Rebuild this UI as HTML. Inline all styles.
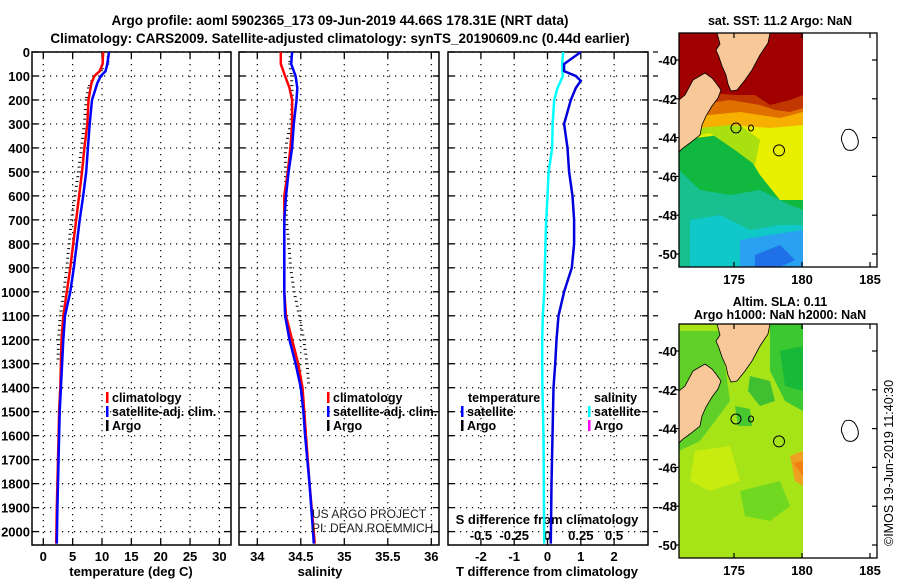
<!DOCTYPE html>
<html><head><meta charset="utf-8">
<style>
html,body{margin:0;padding:0;background:#fff;}
svg{display:block;font-family:"Liberation Sans",sans-serif;font-weight:bold;}
</style></head>
<body>
<svg id="c" width="900" height="580" viewBox="0 0 900 580" xmlns="http://www.w3.org/2000/svg">
<text x="340" y="25" text-anchor="middle" font-size="13.5">Argo profile: aoml 5902365_173 09-Jun-2019 44.66S 178.31E (NRT data)</text>
<text x="340" y="43" text-anchor="middle" font-size="13.5">Climatology: CARS2009. Satellite-adjusted climatology: synTS_20190609.nc (0.44d earlier)</text>
<g id="g"></g>
</svg>
<script>
// ---- data ----
const depthsT = [0,50,80,100,130,200,300,400,500,600,700,800,900,1000,1100,1200,1300,1400,1500,1600,1800,1900,2050];
const tempClim = [10.2,10.1,9.6,8.7,8.2,7.7,7.5,7.0,6.6,6.1,5.6,5.1,4.6,4.0,3.4,3.1,3.0,2.9,2.7,2.6,2.4,2.3,2.2];
const tempSat  = [11.2,10.9,10.6,9.8,9.2,8.3,7.9,7.6,7.3,6.8,6.2,5.7,5.2,4.6,3.7,3.4,3.2,3.0,2.8,2.7,2.5,2.4,2.3];
const depthsArgoT = [0,50,100,150,200,300,400,500,600,700,800,900,1000,1100,1200,1300];
const tempArgo = [11.6,11.5,9.2,8.2,7.8,7.5,7.0,6.5,5.9,5.3,4.9,4.5,4.0,3.4,3.1,3.0];

const depthsS = [0,50,100,150,200,300,400,500,600,700,800,900,1000,1100,1200,1300,1400,1500,1600,1800,2000,2050];
const salClim = [34.27,34.27,34.32,34.37,34.40,34.40,34.38,34.35,34.31,34.31,34.31,34.31,34.31,34.33,34.40,34.47,34.52,34.54,34.56,34.60,34.65,34.66];
const salSat  = [34.40,34.39,34.44,34.46,34.45,34.42,34.40,34.36,34.33,34.31,34.31,34.31,34.31,34.32,34.37,34.44,34.50,34.53,34.55,34.60,34.64,34.65];
const depthsArgoS = [0,50,100,200,300,400,500,600,700,800,900,1000,1100,1200,1300,1400];
const salArgo = [34.36,34.35,34.37,34.38,34.36,34.30,34.30,34.31,34.31,34.34,34.36,34.40,34.46,34.51,34.55,34.57];

const depthsD = [0,50,80,100,120,150,200,300,400,500,600,700,800,900,1000,1100,1200,1300,1400,1600,1800,2050];
const tDiff = [1.0,0.5,0.5,0.85,1.0,0.85,0.7,0.5,0.6,0.65,0.75,0.8,0.8,0.73,0.5,0.33,0.27,0.23,0.18,0.15,0.12,0.1];
const sDiff = [0.117,0.11,0.112,0.115,0.1,0.075,0.05,0.038,0.035,0.008,0.0,-0.01,-0.015,-0.02,-0.025,-0.035,-0.04,-0.04,-0.038,-0.03,-0.028,-0.025];

const depthTicks = [0,100,200,300,400,500,600,700,800,900,1000,1100,1200,1300,1400,1500,1600,1700,1800,1900,2000];
const tTicks = [0,5,10,15,20,25,30];
const sTicks = [34,34.5,35,35.5,36];
const dTTicks = [-2,-1,0,1,2];
const dSTicks = [-0.5,-0.25,0,0.25,0.5];
const dSTickLabels = ["-0.5","-0.25","0","0.25","0.5"];
const latTicks = [-40,-42,-44,-46,-48,-50];
const lonTicks = [175,180,185];

// ---- axes ----
const TOP=52, BOT=545;
const yD = d => 52 + d*0.2398;
const xT = v => 43.3 + v*5.87;
const xS = v => 257.3 + (v-34)*87;
const xDT = v => 547.5 + v*33.3;
const xDS = v => 547.5 + v*133.2;
const P1={l:32,r:231}, P2={l:239,r:439}, P3={l:448,r:648};

const NS="http://www.w3.org/2000/svg";
const G=document.getElementById('g');
function mk(tag, at, parent){const e=document.createElementNS(NS,tag);for(const k in at)e.setAttribute(k,at[k]);(parent||G).appendChild(e);return e;}
function txt(x,y,s,at,parent){const e=mk('text',Object.assign({x:x,y:y},at||{}),parent);e.textContent=s;return e;}

function panel(P,name,xt,xfun){
  const g=mk('g',{});
  
  
  depthTicks.forEach(d=>{
    const y=yD(d);
    mk('line',{x1:P.l,x2:P.r,y1:y,y2:y,stroke:'#000','stroke-width':1.2,'stroke-dasharray':'1.2 4.8'},g);
    mk('line',{x1:P.l,x2:P.l+6,y1:y,y2:y,stroke:'#000','stroke-width':1.3},g);
    mk('line',{x1:P.r-6,x2:P.r,y1:y,y2:y,stroke:'#000','stroke-width':1.3},g);
  });
  xt.forEach(v=>{
    const x=xfun(v);
    mk('line',{x1:x,x2:x,y1:TOP,y2:BOT,stroke:'#000','stroke-width':1.2,'stroke-dasharray':'1.2 4.8'},g);
    mk('line',{x1:x,x2:x,y1:BOT-6,y2:BOT,stroke:'#000','stroke-width':1.3},g);
    mk('line',{x1:x,x2:x,y1:TOP,y2:TOP+6,stroke:'#000','stroke-width':1.3},g);
  });
  mk('rect',{x:P.l,y:TOP,width:P.r-P.l,height:BOT-TOP,fill:'none',stroke:'#000','stroke-width':1.5},g);
  return g;
}
function stepLine(ds,vs,xf,color,w,name){
  let d='';
  for(let i=0;i<ds.length;i++){
    const x=xf(vs[i]).toFixed(1), y=yD(ds[i]).toFixed(1);
    d+=(i?'L':'M')+x+' '+y+' ';
  }
  const p=mk('path',{d:d,fill:'none',stroke:color,'stroke-width':w});
  
  
  return p;
}
function argoTicks(ds,vs,xf,name){
  const g=mk('g',{});
  
  
  for(let i=0;i<ds.length-1;i++){
    for(let d=ds[i];d<ds[i+1];d+=20){
      const f=(d-ds[i])/(ds[i+1]-ds[i]);
      const v=vs[i]+f*(vs[i+1]-vs[i]);
      const x=xf(v)-3,y=yD(d);
      mk('line',{x1:x-1.5,x2:x+1.5,y1:y,y2:y,stroke:'#000','stroke-width':1},g);
    }
  }
}

// panel 1
panel(P1,'temperature-panel',tTicks,xT);
depthTicks.forEach(d=>{const t=txt(30,yD(d)+5,String(d),{'text-anchor':'end','font-size':13});
});
tTicks.forEach(v=>{const t=txt(xT(v),561,String(v),{'text-anchor':'middle','font-size':13});
});
let t1=txt(131,576,'temperature (deg C)',{'text-anchor':'middle','font-size':13});

argoTicks(depthsArgoT,tempArgo,xT,'argo-temperature');
stepLine(depthsT,tempClim,xT,'#f00',2.5,'temperature-climatology-line');
stepLine(depthsT,tempSat,xT,'#00f',2.5,'temperature-satellite-line');

// panel 2
panel(P2,'salinity-panel',sTicks,xS);
sTicks.forEach(v=>{const t=txt(xS(v),561,String(v),{'text-anchor':'middle','font-size':13});
});
let t2=txt(320,576,'salinity',{'text-anchor':'middle','font-size':13});

argoTicks(depthsArgoS,salArgo,v=>xS(v)+5,'argo-salinity');
stepLine(depthsS,salClim,xS,'#f00',2.5,'salinity-climatology-line');
stepLine(depthsS,salSat,xS,'#00f',2.5,'salinity-satellite-line');
let c1=txt(312,518,'US ARGO PROJECT',{'font-size':12,'font-weight':'normal',fill:'#222'});

let c2=txt(312,532,'PI: DEAN ROEMMICH',{'font-size':12,'font-weight':'normal',fill:'#222'});


// panel 3
panel(P3,'difference-panel',dTTicks,xDT);
depthTicks.forEach(d=>{const y=yD(d);mk('line',{x1:P3.r+5,x2:P3.r+10,y1:y,y2:y,stroke:'#000','stroke-width':1.2});});
dTTicks.forEach(v=>{const t=txt(xDT(v),561,String(v),{'text-anchor':'middle','font-size':13});
});
dSTicks.forEach((v,i)=>{const t=txt(xDS(v),540,dSTickLabels[i],{'text-anchor':'middle','font-size':13});
});
let t3=txt(547,576,'T difference from climatology',{'text-anchor':'middle','font-size':13});

let t4=txt(547,524,'S difference from climatology',{'text-anchor':'middle','font-size':13});

stepLine(depthsD,sDiff,xDS,'#0ff',2.5,'salinity-diff-satellite-line');
stepLine(depthsD,tDiff,xDT,'#00d',2.5,'temperature-diff-satellite-line');

// legends
function legend(x,y,items,name){
  const g=mk('g',{});
  
  
  items.forEach((it,i)=>{
    const yy=y+i*14;
    if(it[1]){mk('rect',{x:x,y:yy-10,width:2.5,height:11,fill:it[1]},g);}
    txt(x+(it[1]?6:0),yy,it[0],{'font-size':12.5},g);
  });
}
legend(106,402,[['climatology','#f00'],['satellite-adj. clim.','#00f'],['Argo','#000']],'temperature-legend');
legend(327,402,[['climatology','#f00'],['satellite-adj. clim.','#00f'],['Argo','#000']],'salinity-legend');
legend(468,402,[['temperature',null]],'diff-legend-temp-title');
legend(461,416,[['satellite','#00f'],['Argo','#000']],'diff-legend-temperature');
legend(594,402,[['salinity',null]],'diff-legend-sal-title');
legend(588,416,[['satellite','#0ff'],['Argo','#f0f']],'diff-legend-salinity');

// ---- maps ----
function mapBox(oy,name,title1,title2,kind){
  const g=mk('g',{});
  
  
  const L=679,R=877,T=33+oy,B=267+oy,DR=803;
  const latY=l=>60+oy+(-40-l)*19.4;
  const lonX=l=>734+(l-175)*13.6;
  const clip='clip'+oy;
  const cp=mk('clipPath',{id:clip},g);mk('rect',{x:L,y:T,width:DR-L,height:B-T},cp);
  const d=mk('g',{'clip-path':'url(#'+clip+')'},g);
  const P=(pts)=>pts.map(p=>p[0]+','+(p[1]+oy)).join(' ');
  if(kind==='sst'){
    mk('rect',{x:L,y:T,width:DR-L,height:B-T,fill:'#10b840'},d);
    mk('polygon',{points:P([[679,170],[700,190],[730,195],[760,190],[790,205],[803,210],[803,267],[679,267]]),fill:'#18c090'},d);
    mk('polygon',{points:P([[690,220],[720,215],[750,230],[780,225],[803,225],[803,267],[690,267]]),fill:'#10c8c8'},d);
    mk('polygon',{points:P([[740,240],[770,235],[803,230],[803,267],[740,267]]),fill:'#2aa0f0'},d);
    mk('polygon',{points:P([[755,255],[780,245],[795,260],[780,267],[755,267]]),fill:'#2070e8'},d);
    mk('polygon',{points:P([[679,140],[720,135],[745,150],[760,175],[780,200],[803,200],[803,33],[679,33]]),fill:'#e8f000'},d);
    mk('polygon',{points:P([[679,140],[710,133],[735,150],[755,165],[760,140],[740,125],[700,125]]),fill:'#a8e010'},d);
    mk('polygon',{points:P([[679,130],[730,125],[770,128],[803,125],[803,33],[679,33]]),fill:'#f8b000'},d);
    mk('polygon',{points:P([[679,118],[740,112],[780,118],[803,112],[803,33],[679,33]]),fill:'#e07000'},d);
    mk('polygon',{points:P([[679,108],[730,100],[760,105],[775,110],[790,112],[803,108],[803,33],[679,33]]),fill:'#c03800'},d);
    mk('polygon',{points:P([[679,100],[700,92],[735,95],[755,95],[770,105],[790,100],[803,95],[803,33],[679,33]]),fill:'#a00000'},d);
  } else {
    mk('rect',{x:L,y:T,width:DR-L,height:B-T,fill:'#a6e418'},d);
    mk('polygon',{points:P([[679,40],[720,40],[730,110],[700,150],[679,160]]),fill:'#60d028'},d);
    mk('polygon',{points:P([[770,33],[803,33],[803,120],[785,110],[770,80]]),fill:'#3cc830'},d);
    mk('polygon',{points:P([[780,60],[803,55],[803,100],[785,95]]),fill:'#18b838'},d);
    mk('polygon',{points:P([[750,85],[770,90],[775,110],[760,115],[748,100]]),fill:'#40c030'},d);
    mk('polygon',{points:P([[735,115],[750,118],[752,135],[738,135]]),fill:'#48c830'},d);
    mk('polygon',{points:P([[740,200],[780,190],[790,215],[770,230],[745,225]]),fill:'#70d820'},d);
    mk('polygon',{points:P([[695,160],[730,155],[740,190],[710,200],[690,190]]),fill:'#c8ec10'},d);
    mk('polygon',{points:P([[790,165],[803,160],[803,195],[795,190]]),fill:'#f0a020'},d);
    mk('polygon',{points:P([[793,172],[803,170],[803,185]]),fill:'#f08010'},d);
  }
  // land
  mk('polygon',{points:P([[717,33],[770,33],[768,43],[760,55],[752,70],[745,80],[737,90],[731,91],[728,84],[726,75],[722,66],[719,57],[716,50],[720,44]]),fill:'#f8c898',stroke:'#000','stroke-width':0.8},d);
  mk('polygon',{points:P([[679,100],[685,95],[693,80],[705,73],[712,78],[716,83],[721,90],[718,98],[712,106],[706,116],[702,125],[700,135],[690,143],[683,148],[679,152]]),fill:'#f8c898',stroke:'#000','stroke-width':0.8},d);
  mk('circle',{cx:lonX(178.31),cy:latY(-44.66),r:5.5,fill:'none',stroke:'#000','stroke-width':1},d);
  mk('ellipse',{cx:736,cy:160+oy-32,rx:5,ry:5,fill:'none',stroke:'#000','stroke-width':1},d);
  mk('ellipse',{cx:751,cy:160+oy-32,rx:2.5,ry:3,fill:'none',stroke:'#000','stroke-width':1},d);
  mk('rect',{x:DR,y:T,width:R-DR,height:B-T,fill:'#fff'},g);
  mk('path',{d:`M${845} ${130+oy} q8 -3 12 6 q4 10 -4 14 q-8 2 -10 -6 q-4 -6 2 -14z`,fill:'none',stroke:'#000','stroke-width':1},g);
  mk('rect',{x:L,y:T,width:R-L,height:B-T,fill:'none',stroke:'#000','stroke-width':1.3},g);
  latTicks.forEach(l=>{const y=latY(l);
    mk('line',{x1:R-5,x2:R,y1:y,y2:y,stroke:'#000','stroke-width':1.2},g);
    mk('line',{x1:L-4,x2:L,y1:y,y2:y,stroke:'#000','stroke-width':1.2},g);
    txt(677,y+5,String(l),{'text-anchor':'end','font-size':13},g);});
  lonTicks.forEach(l=>{const x=lonX(l);
    mk('line',{x1:x,x2:x,y1:B-5,y2:B,stroke:'#000','stroke-width':1.2},g);
    mk('line',{x1:x,x2:x,y1:T,y2:T+5,stroke:'#000','stroke-width':1.2},g);
    txt(x,B+17,String(l),{'text-anchor':'middle','font-size':13},g);});
  txt(780,oy?oy+15:25,title1,{'text-anchor':'middle','font-size':12.5},g);
  if(title2)txt(780,oy+28,title2,{'text-anchor':'middle','font-size':12.5},g);
}
mapBox(0,'sst-map','sat. SST: 11.2 Argo: NaN',null,'sst');
mapBox(291,'sla-map','Altim. SLA: 0.11','Argo h1000: NaN h2000: NaN','sla');
let st=txt(0,0,'©IMOS 19-Jun-2019 11:40:30',{'font-size':12.5,'font-weight':'normal',transform:'translate(893,546) rotate(-90)'});

</script>
</body></html>
